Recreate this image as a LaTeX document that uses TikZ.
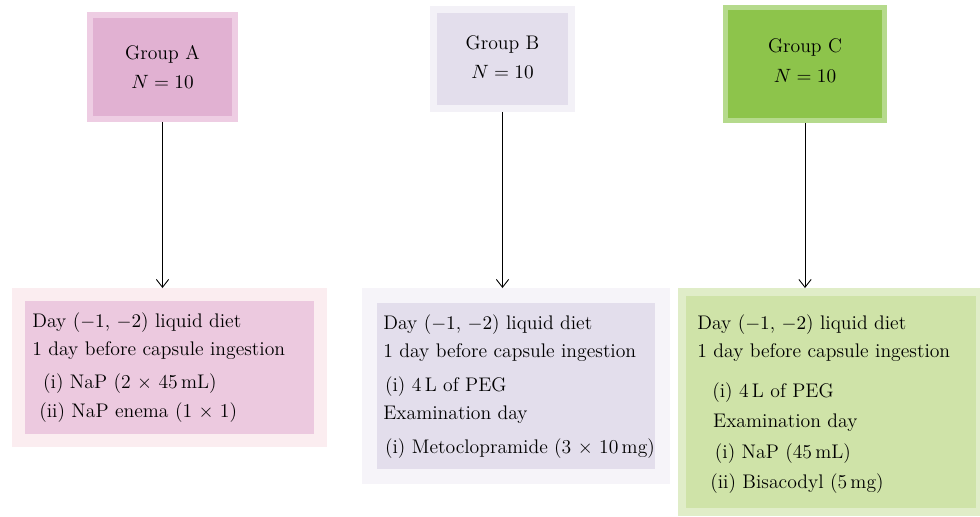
\documentclass[tikz,border=0pt]{standalone}
\usetikzlibrary{arrows.meta}

\definecolor{grpApink}{HTML}{E1B1D2}
\definecolor{grpAedge}{HTML}{EECDE3}
\definecolor{dietApink}{HTML}{ECC9DF}
\definecolor{dietAedge}{HTML}{FBEDF0}
\definecolor{grpBlav}{HTML}{E3DEEC}
\definecolor{grpBedge}{HTML}{F3F1F7}
\definecolor{dietBedge}{HTML}{F6F4F9}
\definecolor{grpCgreen}{HTML}{8DC44B}
\definecolor{grpCedge}{HTML}{B5DA8C}
\definecolor{dietCgreen}{HTML}{CFE3A8}
\definecolor{dietCedge}{HTML}{E0EDC8}

\tikzset{
	grpbox/.style 2 args={fill=#1, draw=#2, inner sep=0pt, align=center},
	dietbox/.style 2 args={fill=#1, draw=#2, inner sep=0pt},
	diettext/.style={anchor=base west, inner sep=0pt, align=left},
	arr/.style={-{Straight Barb[length=4.5pt,width=7pt]}, line width=0.5pt}
}

\begin{document}
\begin{tikzpicture}[x=0.02cm,y=-0.02cm,font=\fontsize{11.2}{16}\selectfont]

		\useasboundingbox (0,0) rectangle (980,517);

		% groups
		\node[grpbox={grpApink}{grpAedge}, line width=0.12cm, minimum width=2.9cm, minimum height=2.08cm] (grpA) at (162.5,67) {Group A\\[0.4pt] $N = 10$};
		\node[grpbox={grpBlav}{grpBedge}, line width=0.14cm, minimum width=2.76cm, minimum height=1.98cm] (grpB) at (502.5,59) {Group B\\[0.4pt] $N = 10$\rule[-1.8pt]{0pt}{0pt}};
		\node[grpbox={grpCgreen}{grpCedge}, line width=0.1cm, minimum width=3.18cm, minimum height=2.26cm] (grpC) at (805,64) {Group C\\[1pt] $N = 10$\rule[-3.6pt]{0pt}{0pt}};

		% preparation boxes
		\node[dietbox={dietApink}{dietAedge}, line width=0.26cm, minimum width=6.04cm, minimum height=2.92cm] (dietA) at (169.5,367.5) {};
		\node[dietbox={grpBlav}{dietBedge}, line width=0.3cm, minimum width=5.86cm, minimum height=3.62cm] (dietB) at (516,386) {};
		\node[dietbox={dietCgreen}{dietCedge}, line width=0.16cm, minimum width=5.96cm, minimum height=4.4cm] (dietC) at (831,402) {};

		% texts (anchored on the last line)
		\node[diettext] (txtA) at (32,417) {Day ($-1$, $-2$) liquid diet\\
			1 day before capsule ingestion\\[2.8pt]
			\hspace*{6.2pt}(i) NaP (2 $\times$ 45\,mL)\\
			\hspace*{4pt}(ii) NaP enema (1 $\times$ 1)};
		\node[diettext] (txtB) at (383,453) {Day ($-1$, $-2$) liquid diet\\
			1 day before capsule ingestion\\[3.4pt]
			\hspace*{1pt}(i) 4\,L of PEG\\
			Examination day\\[2.8pt]
			\hspace*{1pt}(i) Metoclopramide (3 $\times$ 10\,mg)};
		\node[diettext] (txtC) at (697,488) {Day ($-1$, $-2$) liquid diet\\
			1 day before capsule ingestion\\[6.8pt]
			\hspace*{8.5pt}(i) 4\,L of PEG\\[1pt]
			\hspace*{9pt}Examination day\\[1.6pt]
			\hspace*{10pt}(i) NaP (45\,mL)\\[1pt]
			\hspace*{7.4pt}(ii) Bisacodyl (5\,mg)};

		% arrows
		\draw[arr] (grpA) -- (grpA |- dietA.north);
		\draw[arr] (grpB) -- (grpB |- dietB.north);
		\draw[arr] (grpC) -- (grpC |- dietC.north);

	\end{tikzpicture}
\end{document}
